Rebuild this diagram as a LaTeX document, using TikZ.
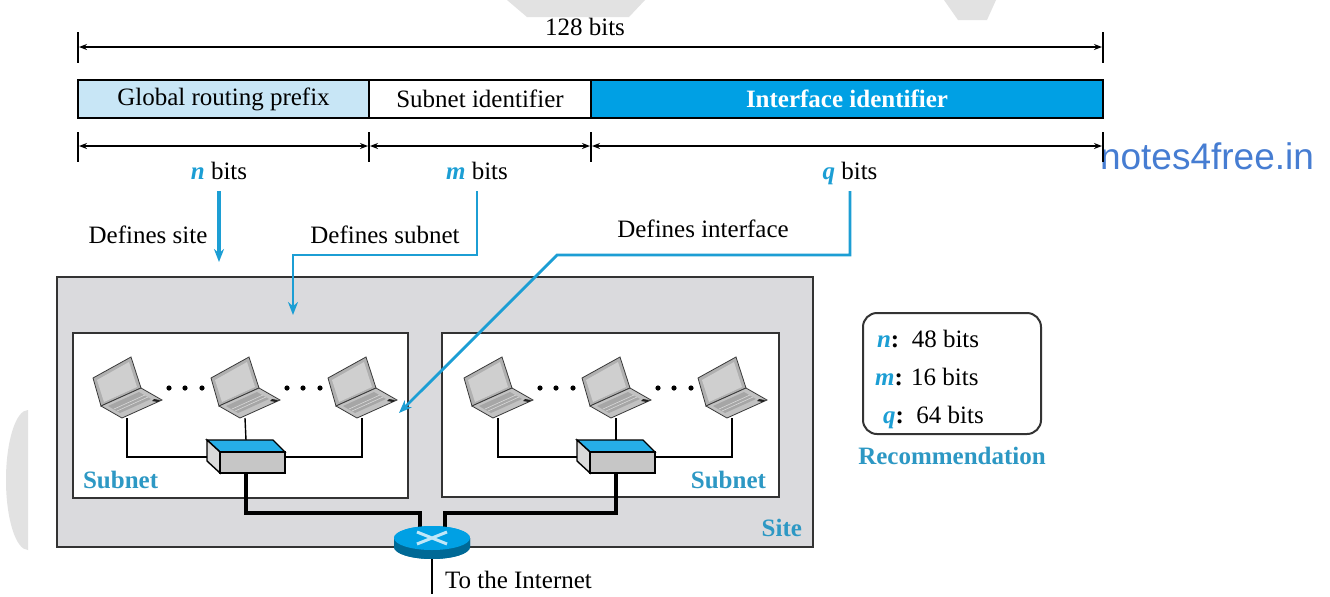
\documentclass[tikz,border=0pt]{standalone}
\usepackage{fontspec}
\setmainfont{Liberation Serif}
\newfontfamily\wmfont{Liberation Sans}
\usetikzlibrary{calc, arrows.meta, positioning}

\definecolor{ablue}{RGB}{28,158,212}
\definecolor{lblue}{RGB}{45,152,196}
\definecolor{ifblue}{RGB}{0,160,228}
\definecolor{pfblue}{RGB}{200,230,246}
\definecolor{sitegray}{RGB}{218,218,221}
\definecolor{wmgray}{RGB}{226,226,226}
\definecolor{wmblue}{RGB}{70,125,210}
\definecolor{rtside}{RGB}{0,105,150}

\begin{document}
\begin{tikzpicture}[x=0.5pt, y=-0.5pt,
    font=\fontsize{12.5}{15}\selectfont,
    field/.style={draw, line width=1pt, minimum height=19pt, inner sep=0pt,
                  outer sep=0pt, anchor=west},
    bitlbl/.style={text height=8.5pt, text depth=2.5pt},
    tickmark/.style={line width=0.8pt},
    dimline/.style={line width=0.8pt,
                    {Stealth[length=4pt,width=3pt]}-{Stealth[length=4pt,width=3pt]}},
    defarrow/.style={ablue, line width=1.4pt, -{Stealth[length=6.5pt,width=5pt]}},
    netbox/.style={draw=black!80, line width=1.1pt, anchor=north west,
                   inner sep=0pt, outer sep=0pt},
    wire/.style={line width=0.7pt},
    cable/.style={line width=2.4pt},
    tag/.style={font=\fontsize{12.5}{15}\selectfont\bfseries, text=lblue},
    laptop/.pic={
      % lid and screen
      \filldraw[fill=gray!62, draw=gray!45!black, line width=0.4pt]
        (-34,-40) -- (4,-61) -- (14,-30) -- (-26,-12) -- cycle;
      \fill[gray!38] (-30,-38) -- (2,-56) -- (10,-31) -- (-23,-16) -- cycle;
      % base and keys
      \filldraw[fill=gray!48, draw=gray!45!black, line width=0.4pt]
        (-26,-12) -- (14,-30) -- (35,-18) -- (-5,0) -- cycle;
      \fill[gray!70] (-19,-12) -- (12,-26) -- (24,-19) -- (-7,-5) -- cycle;
      \draw[gray!30, line width=0.3pt] (-13,-9) -- (18,-23) (-10,-7) -- (21,-21);
      \fill[gray!25!black] (27,-19) -- (33,-18) -- (31,-16) -- (25,-17) -- cycle;
      \coordinate (-port) at (0,0);
    },
    switch/.pic={
      \draw[line width=0.7pt, fill=ifblue!85] (-39,0) -- (27,0) -- (39,12) -- (-26,12) -- cycle;
      \draw[line width=0.7pt, fill=gray!30] (-39,0) -- (-26,12) -- (-26,33) -- (-39,21) -- cycle;
      \draw[line width=0.7pt, fill=gray!45] (-26,12) rectangle (39,33);
      \coordinate (-top) at (0,0);
      \coordinate (-left) at (-39,17);
      \coordinate (-right) at (39,17);
      \coordinate (-bottom) at (0,33);
    },
    router/.pic={
      \fill[rtside] (-38,0) -- (-38,9) arc[start angle=180, end angle=0,
            x radius=38, y radius=12] -- (38,0) -- cycle;
      \fill[ifblue] (0,0) ellipse [x radius=38, y radius=12];
      \draw[white!75!ifblue, line width=1.5pt] (-15,-6) -- (15,6) (-15,6) -- (15,-6);
      \coordinate (-inl) at (-12,-9);
      \coordinate (-inr) at (13,-9);
      \coordinate (-out) at (0,21);
    }
  ]
    \fill[white] (0,0) rectangle (1330,596);
    \useasboundingbox (0,0) rectangle (1330,596);

    % faint page marks
    \fill[wmgray] (507,0) -- (645,0) -- (629,17) -- (527,17) -- cycle;
    \fill[wmgray] (944,0) -- (996,0) -- (987,20) -- (958,20) -- cycle;
    \fill[wmgray] (28,410) arc[start angle=270, end angle=90,
          x radius=22, y radius=70] -- cycle;
    \node[font=\wmfont\fontsize{18.5}{20}\selectfont, text=wmblue] (wm) at (1207,156) {notes4free.in};

    % address fields
    \node[field, fill=pfblue, minimum width=145.5pt] (gprefix) at (78,99) {Global routing prefix};
    \node[field, right=0pt of gprefix, minimum width=111pt] (subid) {Subnet identifier};
    \node[field, right=0pt of subid, fill=ifblue, text=white, minimum width=256pt,
          font=\fontsize{12.5}{15}\selectfont\bfseries] (ifid) {Interface identifier};

    % total length
    \node (total) at (585,27) {128 bits};
    \draw[tickmark] ($(gprefix.north west)+(0,-48)$) -- ++(0,31);
    \draw[tickmark] ($(ifid.north east)+(0,-48)$) -- ++(0,31);
    \draw[dimline] ($(gprefix.north west)+(1,-33)$) -- ($(ifid.north east)+(-1,-33)$);

    % field lengths
    \foreach \f in {gprefix, subid, ifid} {
      \draw[tickmark] ($(\f.south west)+(0,14)$) -- ++(0,30);
      \draw[dimline] ($(\f.south west)+(1,28)$) -- ($(\f.south east)+(-1,28)$);
    }
    \draw[tickmark] ($(ifid.south east)+(0,14)$) -- ++(0,30);

    \node[bitlbl] (nbits) at (219,173) {\textcolor{ablue}{\bfseries\itshape n} bits};
    \node[bitlbl] (mbits) at (477,173) {\textcolor{ablue}{\bfseries\itshape m} bits};
    \node[bitlbl] (qbits) at (850,173) {\textcolor{ablue}{\bfseries\itshape q} bits};

    % site and subnets
    \node[netbox, fill=sitegray, minimum width=378pt, minimum height=135pt] (site) at (57,277) {};
    \node[netbox, fill=white, minimum width=167.5pt, minimum height=82.5pt] (sub1) at (73,333) {};
    \node[netbox, fill=white, minimum width=168.5pt, minimum height=82pt] (sub2) at (442,333) {};

    % hosts
    \foreach \x [count=\i] in {127,245,362,498,616,732}
      \pic (lt\i) at (\x,418) {laptop};
    \foreach \x in {127,245,498,616}
      \foreach \d in {42,58,75}
        \fill (\x+\d,388) circle [radius=2.6];

    % switches
    \draw[wire] (lt1-port) |- (246,457);
    \draw[wire] (lt3-port) |- (246,457);
    \draw[wire] (lt2-port) -- (246,440);
    \draw[wire] (lt4-port) |- (616,457);
    \draw[wire] (lt6-port) |- (616,457);
    \draw[wire] (lt5-port) -- (616,440);
    \pic (sw1) at (246,440) {switch};
    \pic (sw2) at (616,440) {switch};

    % router
    \pic (rt) at (432,538) {router};
    \draw[cable] (sw1-bottom) -- ++(0,40) -| (rt-inl);
    \draw[cable] (sw2-bottom) -- ++(0,40) -| (rt-inr);
    \pic (rt) at (432,538) {router};
    \coordinate (inet) at (432,594);
    \draw[line width=0.8pt] (rt-out) -- (inet);
    \node[anchor=west] (inettxt) at (438,580) {To the Internet};

    \node[tag, anchor=west] (lsub1) at (76,480) {Subnet};
    \node[tag, anchor=east] (lsub2) at (773,480) {Subnet};
    \node[tag, anchor=east] (lsite) at (809,528) {Site};

    % what each part defines
    \node (dsite) at (148,235) {Defines site};
    \node (dsub) at (385,235) {Defines subnet};
    \node (dif) at (703,229) {Defines interface};
    \coordinate (sitetip) at (219,262);
    \coordinate (subtip) at (293,315);
    \coordinate (iftip) at (399,413);
    \draw[defarrow, line width=2.2pt] (nbits.south) -- (sitetip);
    \draw[defarrow] (mbits.south) -- ++(0,64) -| (subtip);
    \draw[defarrow] (qbits.south) -- ++(0,64) -- ++(-293,0) -- (iftip);

    % recommended sizes
    \node[draw=black!80, line width=1pt, rounded corners=7pt, minimum width=89pt,
          minimum height=60.5pt, anchor=north west, inner sep=0pt] (recbox) at (862,312) {};
    \node[anchor=west] (rn) at (870,339) {\textcolor{ablue}{\bfseries\itshape n}\textbf{:}\ \ 48 bits};
    \node[anchor=west] (rm) at (868,377) {\textcolor{ablue}{\bfseries\itshape m}\textbf{:} 16 bits};
    \node[anchor=west] (rq) at (876,417) {\textcolor{ablue}{\bfseries\itshape q}\textbf{:}\ \ 64 bits};
    \node[tag] (rec) at (952,456) {Recommendation};
\end{tikzpicture}
\end{document}
